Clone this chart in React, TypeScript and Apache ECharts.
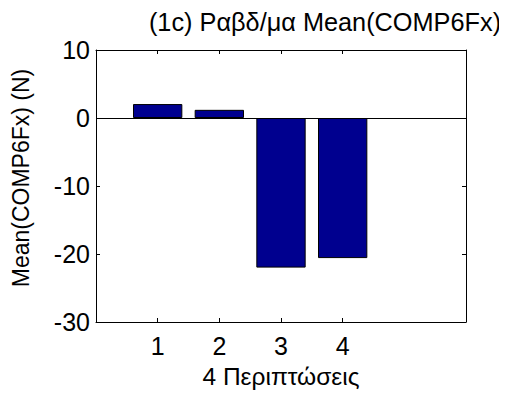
import React, { useEffect, useRef } from "react";
import * as echarts from "echarts";

// ---- data ----
const titleText = "(1c) Ραβδ/μα Mean(COMP6Fx)";
const xAxisTitle = "4 Περιπτώσεις";
const yAxisTitle = "Mean(COMP6Fx) (N)";
const cases = ["1", "2", "3", "4"]; // bar categories / x tick labels
const meanValues = [2.05, 1.2, -22.0, -20.6];
const xLimits = [0, 6];
const yMin = -30;
const yMax = 10;
const yStep = 10;

const FONT = "'Liberation Sans', Arial, sans-serif";

export default function App() {
  const ref = useRef<HTMLDivElement>(null);

  useEffect(() => {
    if (!ref.current) return;
    const chart = echarts.init(ref.current, undefined, { renderer: "svg" });

    // category slots spanning xLimits (0..6); bars sit on slots named in `cases`
    const slots: string[] = [];
    for (let k = xLimits[0]; k <= xLimits[1]; k++) slots.push(String(k));
    const barData = slots.map((s) => {
      const i = cases.indexOf(s);
      return i >= 0 ? meanValues[i] : null;
    });
    const isCase = (idx: number) => cases.indexOf(slots[idx]) >= 0;

    const axisLine = { show: true, onZero: false, lineStyle: { color: "#000", width: 1 } };
    const tick = { show: true, inside: true, length: 4, lineStyle: { color: "#000", width: 1 } };

    chart.setOption({
      animation: false,
      backgroundColor: "#fff",
      title: {
        text: titleText,
        left: 325,
        top: 9,
        textAlign: "center",
        padding: 0,
        textStyle: { fontFamily: FONT, fontSize: 25.3, fontWeight: "normal", color: "#000" },
      },
      graphic: [
        {
          type: "text",
          x: 21,
          y: 178,
          rotation: Math.PI / 2,
          style: {
            text: yAxisTitle,
            fontFamily: FONT,
            fontSize: 23,
            fill: "#000",
            textAlign: "center",
            textVerticalAlign: "middle",
          },
        },
      ],
      grid: { left: 96, right: 41, top: 50, bottom: 77, containLabel: false },
      xAxis: [
        {
          type: "category",
          data: slots,
          boundaryGap: false,
          position: "bottom",
          axisLine,
          axisTick: { ...tick, interval: (i: number) => isCase(i) },
          axisLabel: {
            interval: (i: number) => isCase(i),
            margin: 11,
            color: "#000",
            fontFamily: FONT,
            fontSize: 25,
          },
          splitLine: { show: false },
          name: xAxisTitle,
          nameLocation: "middle",
          nameGap: 42,
          nameTextStyle: { fontFamily: FONT, fontSize: 24.5, color: "#000" },
        },
        {
          type: "category",
          data: slots,
          boundaryGap: false,
          position: "top",
          axisLine,
          axisTick: { ...tick, interval: (i: number) => isCase(i) },
          axisLabel: { show: false },
          splitLine: { show: false },
        },
      ],
      yAxis: [
        {
          type: "value",
          min: yMin,
          max: yMax,
          interval: yStep,
          position: "left",
          axisLine,
          axisTick: tick,
          axisLabel: { margin: 6, color: "#000", fontFamily: FONT, fontSize: 25 },
          splitLine: { show: false },
        },
        {
          type: "value",
          min: yMin,
          max: yMax,
          interval: yStep,
          position: "right",
          axisLine,
          axisTick: tick,
          axisLabel: { show: false },
          splitLine: { show: false },
        },
      ],
      series: [
        {
          type: "bar",
          xAxisIndex: 0,
          yAxisIndex: 0,
          data: barData,
          barWidth: "80%",
          itemStyle: { color: "#00008F", borderColor: "#000", borderWidth: 1 },
          markLine: {
            silent: true,
            symbol: "none",
            label: { show: false },
            lineStyle: { color: "#000", width: 1, type: "solid" },
            data: [{ yAxis: 0 }],
          },
        },
      ],
    });

    return () => chart.dispose();
  }, []);

  return <div ref={ref} style={{ width: 507, height: 399, margin: -8 }} />;
}
